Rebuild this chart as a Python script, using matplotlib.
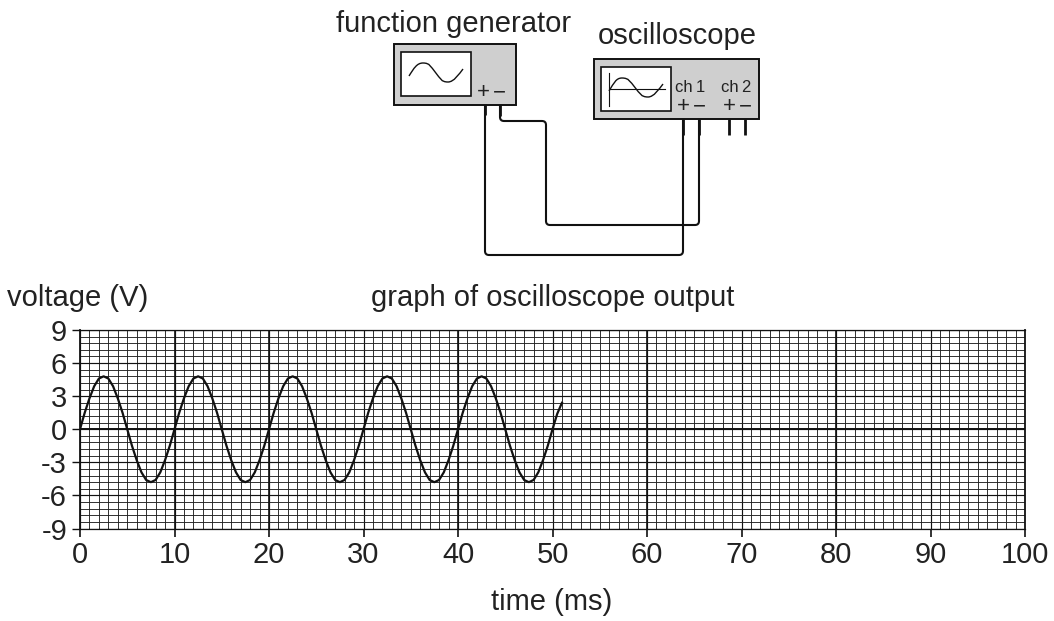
import matplotlib
matplotlib.use('Agg')
import matplotlib.pyplot as plt
from matplotlib.patches import PathPatch, Rectangle
from matplotlib.path import Path
from matplotlib.ticker import MultipleLocator

plt.rcParams['font.family'] = ['Liberation Sans', 'DejaVu Sans']

# values, one every 0.5 ms
time_ms = [i * 0.5 for i in range(103)]
voltage = [0, 1.5, 2.8, 3.9, 4.6, 4.8, 4.6, 3.9, 2.8, 1.5,
           0, -1.5, -2.8, -3.9, -4.6, -4.8, -4.6, -3.9, -2.8, -1.5,
           0, 1.5, 2.8, 3.9, 4.6, 4.8, 4.6, 3.9, 2.8, 1.5,
           0, -1.5, -2.8, -3.9, -4.6, -4.8, -4.6, -3.9, -2.8, -1.5,
           0, 1.5, 2.8, 3.9, 4.6, 4.8, 4.6, 3.9, 2.8, 1.5,
           0, -1.5, -2.8, -3.9, -4.6, -4.8, -4.6, -3.9, -2.8, -1.5,
           0, 1.5, 2.8, 3.9, 4.6, 4.8, 4.6, 3.9, 2.8, 1.5,
           0, -1.5, -2.8, -3.9, -4.6, -4.8, -4.6, -3.9, -2.8, -1.5,
           0, 1.5, 2.8, 3.9, 4.6, 4.8, 4.6, 3.9, 2.8, 1.5,
           0, -1.5, -2.8, -3.9, -4.6, -4.8, -4.6, -3.9, -2.8, -1.5,
           0, 1.4, 2.4]
x_ticks = [0, 10, 20, 30, 40, 50, 60, 70, 80, 90, 100]
y_ticks = [-9, -6, -3, 0, 3, 6, 9]
heavy_x = [10, 20, 40, 60, 80]

W, H = 1054, 621
ink = '#111111'
txt = '#222222'
fs = 21


def rounded_wire(pts, r=4):
    # polyline with small rounded corners, like the drawn wires
    verts = [pts[0]]
    codes = [Path.MOVETO]
    for i in range(1, len(pts) - 1):
        x0, y0 = pts[i - 1]
        x1, y1 = pts[i]
        x2, y2 = pts[i + 1]
        dx0 = (x0 > x1) - (x0 < x1)
        dy0 = (y0 > y1) - (y0 < y1)
        dx1 = (x2 > x1) - (x2 < x1)
        dy1 = (y2 > y1) - (y2 < y1)
        verts += [(x1 + dx0 * r, y1 + dy0 * r), (x1, y1), (x1 + dx1 * r, y1 + dy1 * r)]
        codes += [Path.LINETO, Path.CURVE3, Path.CURVE3]
    verts.append(pts[-1])
    codes.append(Path.LINETO)
    return Path(verts, codes)


def small_wave(x0, y0, xp, yp, xt, yt, x1, y1):
    # one hand drawn looking wave through start, peak, trough and end
    xm = (xp + xt) / 2
    ym = (yp + yt) / 2
    verts = [(x0, y0), (x0 + 5, y0 - 8), (xp - 6, yp), (xp, yp),
             (xp + 7, yp), (xm - 5, ym - 6), (xm, ym),
             (xm + 5, ym + 6), (xt - 7, yt), (xt, yt),
             (xt + 6, yt), (x1 - 4, y1 + 5), (x1, y1)]
    codes = [Path.MOVETO] + [Path.CURVE4] * 12
    return Path(verts, codes)


fig = plt.figure(figsize=(W / 100, H / 100), dpi=100)

ax = fig.add_axes([80 / W, 1 - 528.5 / H, 945 / W, 198.5 / H])
ax.set_xlim(0, 100)
ax.set_ylim(-9, 9)
ax.xaxis.set_minor_locator(MultipleLocator(1))
ax.yaxis.set_minor_locator(MultipleLocator(0.6))
ax.set_xticks(x_ticks)
ax.set_yticks(y_ticks)
ax.set_yticklabels([str(v) for v in y_ticks])
ax.set_axisbelow(True)
ax.grid(which='minor', color='#222222', linewidth=0.65)
ax.grid(which='major', color=ink, linewidth=0.85)
for x in heavy_x:
    ax.axvline(x, color=ink, linewidth=1.2)
ax.axhline(0, color=ink, linewidth=1.4)
ax.plot(time_ms, voltage, color=ink, linewidth=1.6, solid_joinstyle='round')
for s in ax.spines.values():
    s.set_linewidth(0.9)
    s.set_color(ink)
ax.spines['left'].set_linewidth(1.3)
ax.spines['right'].set_linewidth(1.3)
ax.tick_params(which='minor', length=0)
ax.tick_params(axis='x', which='major', length=5.8, width=1.2, color=ink,
               labelsize=fs, labelcolor=txt, pad=3)
ax.tick_params(axis='y', which='major', length=5.8, width=1.0, color=ink,
               labelsize=fs, labelcolor=txt, pad=3.5)

# overlay in image pixels for the sketch and the free labels
ov = fig.add_axes([0, 0, 1, 1])
ov.set_xlim(0, W)
ov.set_ylim(H, 0)
ov.axis('off')
ov.patch.set_alpha(0)

ov.text(454, 24, 'function generator', fontsize=fs, color=txt, ha='center', va='center')
ov.text(677, 36, 'oscilloscope', fontsize=fs, color=txt, ha='center', va='center')
ov.text(78, 298, 'voltage (V)', fontsize=fs, color=txt, ha='center', va='center')
ov.text(552.5, 298, 'graph of oscilloscope output', fontsize=fs, color=txt, ha='center', va='center')
ov.text(552, 602, 'time (ms)', fontsize=fs, color=txt, ha='center', va='center')

# function generator box
ov.add_patch(Rectangle((393.5, 44), 122.5, 60.5, fc='#cfcfcf', ec=ink, lw=1.4))
ov.add_patch(Rectangle((401, 52), 70, 43.5, fc='white', ec=ink, lw=1.2))
ov.add_patch(PathPatch(small_wave(409, 76, 423, 63, 448, 82, 463, 69), fc='none', ec=ink, lw=1.0))

# oscilloscope box
ov.add_patch(Rectangle((594, 59), 165, 60, fc='#cfcfcf', ec=ink, lw=1.4))
ov.add_patch(Rectangle((601, 67), 69.5, 43.5, fc='white', ec=ink, lw=1.2))
ov.add_patch(PathPatch(small_wave(609, 91, 622, 78, 648, 97, 663, 84), fc='none', ec=ink, lw=1.0))
ov.plot([609, 609], [73, 106], color=ink, lw=0.8)
ov.plot([609, 665], [89, 89], color=ink, lw=0.8)

ov.text(483, 93, '+', fontsize=16, color=txt, ha='center', va='center')
ov.text(499, 93, '\u2212', fontsize=16, color=txt, ha='center', va='center')
ov.text(690, 87.5, 'ch\u20091', fontsize=12, color=txt, ha='center', va='center')
ov.text(736, 87.5, 'ch\u20092', fontsize=12, color=txt, ha='center', va='center')
for x, s in [(683, '+'), (699, '\u2212'), (729, '+'), (745, '\u2212')]:
    ov.text(x, 107, s, fontsize=16, color=txt, ha='center', va='center')

# terminals and wires
for x, y0, y1 in [(485, 105, 115), (500, 105, 116), (683, 119, 135), (699, 119, 135),
                  (729, 119, 135), (745, 119, 135)]:
    ov.plot([x, x], [y0, y1], color=ink, lw=2.0, solid_capstyle='butt')
ov.add_patch(PathPatch(rounded_wire([(485, 105), (485, 255), (683, 255), (683, 120)]),
                       fc='none', ec=ink, lw=1.5))
ov.add_patch(PathPatch(rounded_wire([(500, 105), (500, 121), (546, 121), (546, 225),
                                     (699, 225), (699, 120)]),
                       fc='none', ec=ink, lw=1.5))

fig.savefig('out.png', dpi=100)
